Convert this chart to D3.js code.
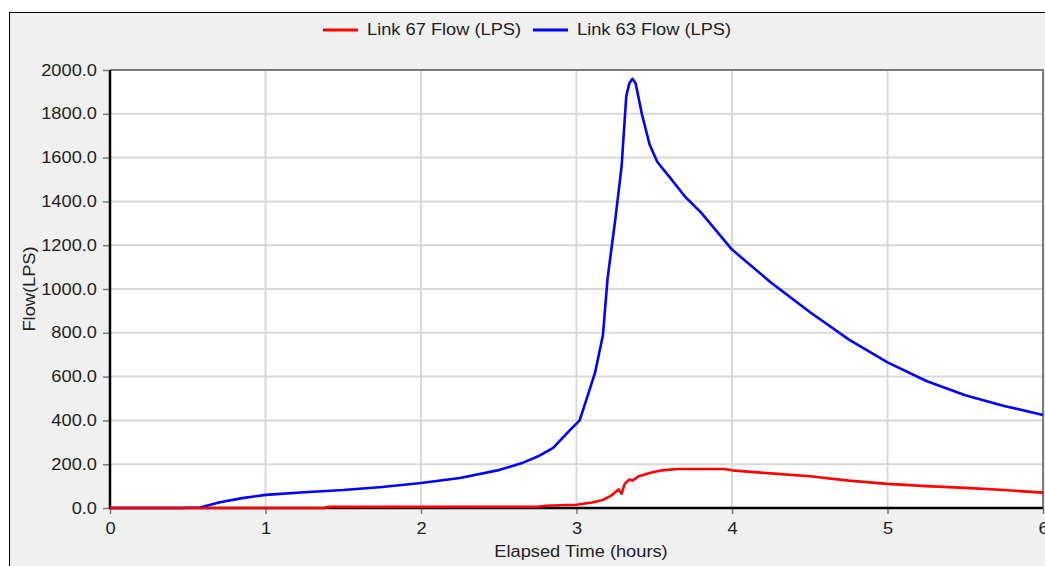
<!DOCTYPE html>
<html>
<head>
<meta charset="utf-8">
<script src="https://cdn.jsdelivr.net/npm/d3@7/dist/d3.min.js"></script>
<style>
  html, body { margin: 0; padding: 0; background: #ffffff; }
  svg { display: block; font-family: "Liberation Sans", Arial, sans-serif; }
</style>
</head>
<body>
<svg id="chart" width="1045" height="566"></svg>
<script>
// Elapsed time (hours) and flow (LPS) samples for each link
const link63Time = [0, 0.45, 0.58, 0.7, 0.85, 1, 1.25, 1.5, 1.75, 2, 2.25, 2.5, 2.65, 2.75, 2.85, 2.95, 3.02, 3.08, 3.12, 3.17, 3.2, 3.25, 3.29, 3.32, 3.34, 3.36, 3.38, 3.42, 3.47, 3.52, 3.6, 3.7, 3.8, 4, 4.25, 4.5, 4.75, 5, 5.25, 5.5, 5.75, 6];
const link63Flow = [0, 0, 2, 25, 45, 60, 72, 82, 96, 114, 137, 173, 205, 235, 275, 350, 400, 530, 620, 790, 1050, 1320, 1560, 1880, 1940, 1960, 1940, 1800, 1660, 1580, 1510, 1420, 1350, 1180, 1030, 895, 770, 665, 580, 515, 466, 425];

const link67Time = [0, 1.38, 1.4, 2.75, 2.8, 3.0, 3.1, 3.17, 3.22, 3.27, 3.29, 3.31, 3.34, 3.36, 3.4, 3.47, 3.55, 3.65, 3.95, 4, 4.25, 4.5, 4.75, 5, 5.25, 5.5, 5.75, 6];
const link67Flow = [0, 0, 5, 6, 10, 15, 25, 37, 55, 85, 65, 110, 130, 125, 145, 160, 172, 178, 178, 172, 158, 145, 125, 110, 100, 92, 82, 70];

const xTicks = [0, 1, 2, 3, 4, 5, 6];
const yTicks = [0, 200, 400, 600, 800, 1000, 1200, 1400, 1600, 1800, 2000];

const seriesNames = ["Link 67 Flow (LPS)", "Link 63 Flow (LPS)"];
const seriesColors = ["#ff0000", "#0000ff"];

const svg = d3.select("#chart");
const W = 1045, H = 566;
const plot = { left: 110, right: 1043, top: 70, bottom: 508 };
const FONT = "16px";
const STRETCH = 1.14; // the chart's text is set slightly wide

// widen a text selection horizontally by STRETCH
function widen(sel) {
  sel.each(function () {
    const w = this.getComputedTextLength();
    if (w > 0) {
      d3.select(this).attr("textLength", w * STRETCH).attr("lengthAdjust", "spacingAndGlyphs");
    }
  });
}

// outer panel
svg.append("rect").attr("x", 9.5).attr("y", 12.5).attr("width", W).attr("height", H)
  .attr("fill", "#f0f0f0").attr("stroke", "#000").attr("stroke-width", 1);

const x = d3.scaleLinear().domain([0, 6]).range([plot.left, plot.right]);
const y = d3.scaleLinear().domain([0, 2000]).range([plot.bottom, plot.top]);

// plot background
svg.append("rect").attr("x", plot.left).attr("y", plot.top)
  .attr("width", plot.right - plot.left).attr("height", plot.bottom - plot.top)
  .attr("fill", "#ffffff");

// grid
const grid = svg.append("g");
grid.selectAll(".gx").data(xTicks.slice(1, -1)).join("line")
  .attr("x1", d => x(d)).attr("x2", d => x(d))
  .attr("y1", plot.top).attr("y2", plot.bottom)
  .attr("stroke", "#d9d9d9").attr("stroke-width", 2);
grid.selectAll(".gy").data(yTicks.slice(1, -1)).join("line")
  .attr("x1", plot.left).attr("x2", plot.right)
  .attr("y1", d => y(d)).attr("y2", d => y(d))
  .attr("stroke", "#d9d9d9").attr("stroke-width", 2);

// top and right frame
svg.append("path")
  .attr("d", `M${plot.left},${plot.top}H${plot.right}V${plot.bottom}`)
  .attr("fill", "none").attr("stroke", "#7a7a7a").attr("stroke-width", 2);

// axes
const yAxis = d3.axisLeft(y).tickValues(yTicks).tickFormat(d3.format(".1f")).tickSize(7).tickPadding(6);
const gy = svg.append("g").attr("transform", `translate(${plot.left},0)`).call(yAxis);
const xAxis = d3.axisBottom(x).tickValues(xTicks).tickFormat(d3.format("d")).tickSize(6).tickPadding(9);
const gx = svg.append("g").attr("transform", `translate(0,${plot.bottom})`).call(xAxis);
[gx, gy].forEach(g => {
  g.select(".domain").remove();
  g.selectAll(".tick line").attr("stroke", "#7a7a7a").attr("stroke-width", 1.5);
  g.selectAll(".tick text").attr("fill", "#222").style("font-size", FONT)
    .style("font-family", "'Liberation Sans', Arial, sans-serif");
});
widen(gy.selectAll(".tick text"));
widen(gx.selectAll(".tick text"));

// series lines
const line = d3.line().x(d => x(d[0])).y(d => y(d[1]));
const series = [
  d3.zip(link67Time, link67Flow),
  d3.zip(link63Time, link63Flow)
];

// axis lines drawn beneath the series
svg.append("line").attr("x1", plot.left).attr("x2", plot.right)
  .attr("y1", plot.bottom).attr("y2", plot.bottom)
  .attr("stroke", "#000").attr("stroke-width", 2.5);
svg.append("line").attr("x1", plot.left).attr("x2", plot.left)
  .attr("y1", plot.top).attr("y2", plot.bottom + 1)
  .attr("stroke", "#000").attr("stroke-width", 2.5);

// draw blue first, red on top
[1, 0].forEach(i => {
  svg.append("path").datum(series[i])
    .attr("d", line).attr("fill", "none")
    .attr("stroke", seriesColors[i]).attr("stroke-width", 2.6)
    .attr("stroke-linejoin", "round");
});

// legend
const legendItems = [
  { name: seriesNames[0], color: seriesColors[0], x: 323 },
  { name: seriesNames[1], color: seriesColors[1], x: 533 }
];
const lg = svg.append("g");
legendItems.forEach(it => {
  lg.append("line").attr("x1", it.x).attr("x2", it.x + 35)
    .attr("y1", 30).attr("y2", 30).attr("stroke", it.color).attr("stroke-width", 3);
  lg.append("text").attr("x", it.x + 44).attr("y", 35)
    .attr("fill", "#222").style("font-size", FONT).text(it.name);
});
widen(lg.selectAll("text"));

// axis titles
const xt = svg.append("text").attr("x", 581).attr("y", 557).attr("text-anchor", "middle")
  .attr("fill", "#222").style("font-size", FONT).text("Elapsed Time (hours)");
const yt = svg.append("text").attr("transform", "translate(35,289) rotate(-90)")
  .attr("text-anchor", "middle").attr("fill", "#222").style("font-size", FONT)
  .text("Flow(LPS)");
widen(xt);
widen(yt);
</script>
</body>
</html>
